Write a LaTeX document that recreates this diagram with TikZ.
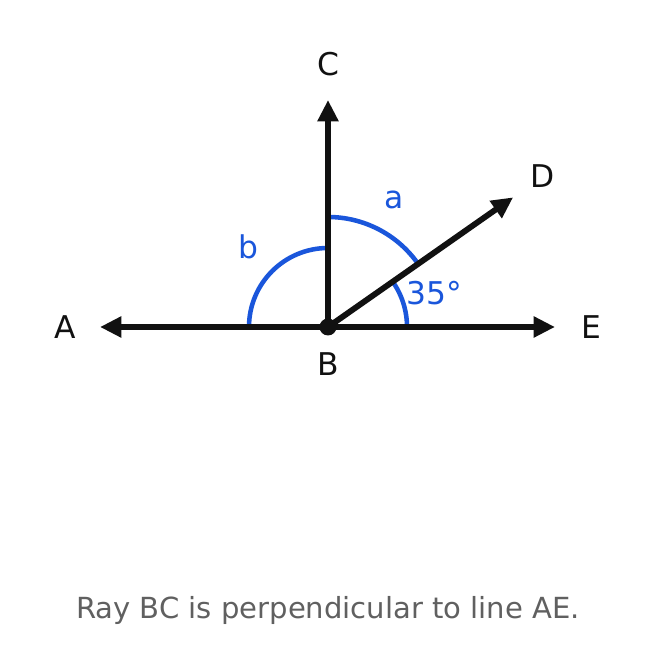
\documentclass[tikz,border=0pt]{standalone}
\usepackage{fontspec}
\setmainfont{DejaVu Sans}
\usepackage{tikz}
\usetikzlibrary{arrows.meta, positioning, calc}
\definecolor{raycolor}{RGB}{17, 17, 17}
\definecolor{anglecolor}{RGB}{26, 86, 219}
\definecolor{captioncolor}{RGB}{96, 96, 96}

\begin{document}
\begin{tikzpicture}[
    x=0.75pt, y=0.75pt,
    ray/.style={-{Triangle[length=16pt, width=15pt]}, line width=4.4pt, raycolor},
    anglearc/.style={line width=3.4pt, anglecolor},
    point/.style={font=\fontsize{23.5}{28}\selectfont, text=raycolor},
    anglelabel/.style={font=\fontsize{23.5}{28}\selectfont, text=anglecolor},
    caption/.style={font=\fontsize{21.8}{26}\selectfont, text=captioncolor}
]
    \useasboundingbox (0,0) rectangle (656,656);
    % Points
    \coordinate (B) at (328,329);
    \coordinate (tipA) at (100,329);
    \coordinate (tipE) at (555,329);
    \coordinate (tipC) at (328,556);
    \coordinate (tipD) at ($(B)+(35:226)$);

    % Labels
    \node[point] (labA) at (65,329) {A};
    \node[point] (labE) at (591,329) {E};
    \node[point] (labC) at (328,592) {C};
    \node[point] (labD) at (543,480) {D};
    \node[point] (labB) at (328,292) {B};
    \node[anglelabel] (laba) at (394,456) {a};
    \node[anglelabel] (labb) at (248,409) {b};
    \node[anglelabel] (labdeg) at (434,363) {35°};
    \node[caption] (cap) at (328,46) {Ray BC is perpendicular to line AE.};

    % Arcs
    \draw[anglearc] ($(B)+(79,0)$) arc[start angle=0, end angle=35, radius=79];
    \draw[anglearc] ($(B)+(35:110)$) arc[start angle=35, end angle=90, radius=110];
    \draw[anglearc] ($(B)+(0,79)$) arc[start angle=90, end angle=180, radius=79];

    % Rays
    \draw[ray] (B) -- (tipA);
    \draw[ray] (B) -- (tipE);
    \draw[ray] (B) -- (tipC);
    \draw[ray] (B) -- (tipD);
    \fill[raycolor] (B) circle (8.5);
\end{tikzpicture}
\end{document}
